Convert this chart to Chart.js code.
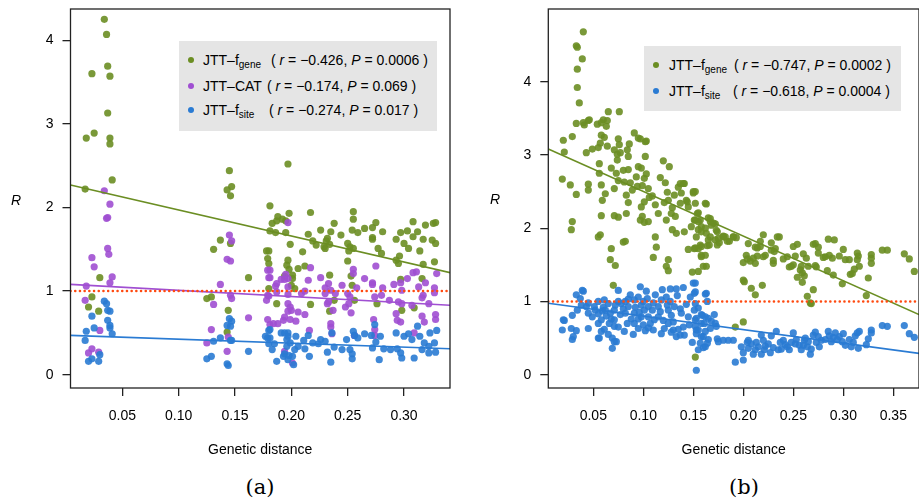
<!DOCTYPE html>
<html>
<head>
<meta charset="utf-8">
<script src="https://cdn.jsdelivr.net/npm/chart.js@4.4.1/dist/chart.umd.min.js"></script>
<style>
  body { margin: 0; width: 919px; height: 504px; position: relative; background: #fff; overflow: hidden; font-family: "Liberation Sans", Arial, sans-serif; }
  canvas { position: absolute; top: 0; }
  .ylab { position: absolute; font: italic 14px "Liberation Sans", Arial, sans-serif; color: #000; }
  .cap { position: absolute; font: 21px "DejaVu Serif", "Liberation Serif", serif; color: #000; transform: translateX(-50%); }
  .legend { position: absolute; background: #e5e5e5; }
  .row { position: absolute; height: 20px; line-height: 20px; font-size: 14px; color: #000; white-space: nowrap; }
  .dot { position: absolute; width: 6px; height: 6px; border-radius: 50%; }
  sub { font-size: 10px; vertical-align: -3px; line-height: 0; }
</style>
</head>
<body>
<canvas id="ca" width="460" height="470" style="left:0"></canvas>
<canvas id="cb" width="459" height="470" style="left:460px"></canvas>

<div class="ylab" style="left:11px;top:192px">R</div>
<div class="ylab" style="left:490px;top:191px">R</div>

<div class="legend" style="left:179px;top:41px;width:258px;height:90px">
  <div class="dot" style="left:9px;top:16px;background:#6b8e23"></div>
  <div class="row" style="left:24px;top:9px">JTT–f<sub>gene</sub></div>
  <div class="row" style="left:92px;top:9px">( <i>r</i> = −0.426, <i>P</i> = 0.0006 )</div>
  <div class="dot" style="left:9px;top:42px;background:#a04fd2"></div>
  <div class="row" style="left:24px;top:35px">JTT–CAT</div>
  <div class="row" style="left:88px;top:35px">( <i>r</i> = −0.174, <i>P</i> = 0.069 )</div>
  <div class="dot" style="left:9px;top:66px;background:#2a7bd3"></div>
  <div class="row" style="left:24px;top:59px">JTT–f<sub>site</sub></div>
  <div class="row" style="left:90px;top:59px">( <i>r</i> = −0.274, <i>P</i> = 0.017 )</div>
</div>

<div class="legend" style="left:644px;top:46px;width:257px;height:65px">
  <div class="dot" style="left:9px;top:16px;background:#6b8e23"></div>
  <div class="row" style="left:25px;top:9px">JTT–f<sub>gene</sub></div>
  <div class="row" style="left:90px;top:9px">( <i>r</i> = −0.747, <i>P</i> = 0.0002 )</div>
  <div class="dot" style="left:9px;top:42px;background:#2a7bd3"></div>
  <div class="row" style="left:25px;top:35px">JTT–f<sub>site</sub></div>
  <div class="row" style="left:89px;top:35px">( <i>r</i> = −0.618, <i>P</i> = 0.0004 )</div>
</div>

<div class="cap" style="left:260px;top:475px">(a)</div>
<div class="cap" style="left:744px;top:475px">(b)</div>

<script>
// ---- panel (a) ----
const aXTicks = [0.05, 0.10, 0.15, 0.20, 0.25, 0.30];
const yTicks = [0, 1, 2, 3, 4];

const aGene = [
  [0.034,4.25],[0.036,4.07],[0.037,3.69],[0.023,3.60],[0.039,3.57],[0.037,3.13],[0.025,2.89],[0.018,2.83],
  [0.039,2.83],[0.039,2.76],[0.041,2.33],[0.017,2.22],[0.030,1.16],[0.023,0.93],[0.020,0.81],[0.029,0.76],
  [0.145,2.44],[0.147,2.25],[0.143,2.21],[0.146,2.14],[0.137,1.61],[0.131,1.50],[0.146,1.57],[0.162,1.16],
  [0.125,0.91],[0.129,0.93],[0.144,0.77],[0.143,0.51],
  [0.180,1.48],[0.179,1.39],[0.180,1.33],[0.180,1.03],
  [0.197,2.52],[0.181,2.02],[0.183,1.81],[0.187,1.84],[0.188,1.89],[0.192,1.86],[0.195,1.84],[0.198,1.93],
  [0.195,1.70],[0.181,1.72],[0.186,1.70],[0.217,1.94],[0.238,1.81],[0.255,1.95],[0.255,1.86],[0.275,1.82],
  [0.272,1.76],[0.308,1.83],[0.328,1.82],[0.326,1.81],[0.319,1.79],[0.226,1.73],[0.235,1.71],[0.244,1.67],
  [0.254,1.73],[0.259,1.70],[0.265,1.75],[0.272,1.64],[0.281,1.71],[0.297,1.70],[0.303,1.72],[0.312,1.71],
  [0.317,1.62],[0.325,1.61],[0.328,1.57],[0.308,1.65],[0.293,1.62],[0.300,1.57],[0.304,1.51],[0.314,1.48],
  [0.232,1.63],[0.231,1.60],[0.234,1.56],[0.230,1.51],[0.229,1.53],[0.222,1.55],[0.215,1.68],[0.219,1.60],
  [0.250,1.57],[0.252,1.53],[0.255,1.51],[0.251,1.48],[0.277,1.51],[0.280,1.45],[0.272,1.62],[0.293,1.37],
  [0.296,1.42],[0.295,1.33],[0.327,1.35],[0.317,1.32],[0.210,1.47],[0.199,1.56],[0.178,1.48],[0.197,1.37],
  [0.196,1.31],[0.198,1.26],[0.201,1.19],[0.206,1.27],[0.212,1.30],[0.194,1.18],[0.201,1.15],[0.234,1.19],
  [0.253,1.18],[0.254,1.07],[0.250,1.36],[0.234,0.76],[0.238,0.89],[0.217,0.84],[0.187,0.85],[0.256,0.89],
  [0.276,0.85],[0.298,0.77],[0.309,0.80],[0.316,1.15],[0.297,1.14],[0.203,1.03],[0.200,1.07]
];

const aCat = [
  [0.034,2.20],[0.039,2.04],[0.036,1.87],[0.037,1.88],[0.037,1.51],[0.038,1.44],[0.023,1.40],[0.025,1.29],
  [0.041,1.17],[0.039,1.10],[0.018,1.06],[0.017,0.89],[0.030,0.53],[0.023,0.31],[0.020,0.26],[0.029,0.27],
  [0.145,1.67],[0.147,1.60],[0.143,1.38],[0.146,1.36],[0.137,1.08],[0.146,0.95],[0.147,0.91],[0.131,0.84],
  [0.162,0.68],[0.129,0.54],[0.125,0.38],[0.144,0.45],[0.143,0.28],
  [0.179,1.25],[0.180,1.16],[0.179,0.95],[0.178,0.89],[0.179,0.66],
  [0.197,1.82],[0.181,1.25],[0.181,1.16],[0.187,1.09],[0.186,1.06],[0.195,1.20],[0.197,1.15],[0.194,1.14],
  [0.191,1.14],[0.197,1.05],[0.217,1.28],[0.226,1.16],[0.215,1.13],[0.233,1.09],[0.230,1.04],[0.235,1.01],
  [0.245,1.07],[0.255,1.26],[0.255,1.21],[0.258,1.04],[0.265,1.15],[0.275,1.30],[0.272,1.10],[0.272,1.08],
  [0.281,1.04],[0.291,1.08],[0.297,1.10],[0.298,1.01],[0.303,1.15],[0.308,1.22],[0.311,1.23],[0.313,1.05],
  [0.319,1.10],[0.317,0.95],[0.327,1.04],[0.329,1.21],[0.327,0.98],[0.187,0.99],[0.197,0.96],[0.180,0.94],
  [0.209,0.97],[0.212,1.00],[0.230,0.97],[0.239,0.97],[0.250,0.97],[0.252,0.93],[0.274,0.93],[0.280,0.95],
  [0.287,0.89],[0.295,0.87],[0.298,0.85],[0.307,0.83],[0.316,0.92],[0.322,0.85],[0.197,0.85],[0.199,0.81],
  [0.200,0.77],[0.197,0.76],[0.206,0.75],[0.212,0.72],[0.194,0.69],[0.199,0.66],[0.204,0.64],[0.193,0.65],
  [0.232,0.85],[0.233,0.87],[0.237,0.77],[0.253,0.74],[0.251,0.85],[0.248,0.81],[0.273,0.66],[0.274,0.54],
  [0.293,0.73],[0.294,0.65],[0.297,0.63],[0.316,0.70],[0.318,0.63],[0.328,0.72],[0.328,0.66],[0.181,0.60],
  [0.184,0.61],[0.188,0.61],[0.216,0.53],[0.235,0.61],[0.235,0.57],[0.236,0.49],[0.194,0.28],[0.201,0.14],
  [0.256,0.47],[0.274,0.47],[0.309,0.50]
];

const aSite = [
  [0.034,0.88],[0.036,0.85],[0.037,0.77],[0.039,0.76],[0.023,0.70],[0.037,0.65],[0.039,0.59],[0.039,0.56],
  [0.025,0.56],[0.041,0.49],[0.018,0.52],[0.017,0.41],[0.030,0.24],[0.020,0.16],[0.023,0.19],[0.029,0.16],
  [0.145,0.67],[0.147,0.64],[0.143,0.59],[0.146,0.58],[0.137,0.44],[0.131,0.40],[0.146,0.41],[0.147,0.41],
  [0.162,0.28],[0.129,0.22],[0.125,0.19],[0.143,0.13],[0.144,0.11],
  [0.180,0.53],[0.179,0.44],[0.181,0.44],
  [0.181,0.54],[0.177,0.46],[0.180,0.37],[0.185,0.37],[0.183,0.30],[0.187,0.16],[0.191,0.50],[0.194,0.50],
  [0.197,0.50],[0.197,0.46],[0.199,0.38],[0.196,0.34],[0.194,0.25],[0.198,0.23],[0.201,0.22],[0.202,0.12],
  [0.203,0.30],[0.206,0.34],[0.204,0.46],[0.196,0.42],[0.193,0.22],[0.197,0.18],[0.211,0.41],[0.212,0.31],
  [0.216,0.22],[0.215,0.47],[0.219,0.38],[0.224,0.37],[0.226,0.42],[0.230,0.40],[0.232,0.27],[0.235,0.15],
  [0.236,0.50],[0.238,0.33],[0.245,0.30],[0.249,0.42],[0.252,0.30],[0.254,0.25],[0.254,0.19],[0.255,0.52],
  [0.256,0.47],[0.259,0.44],[0.265,0.49],[0.271,0.47],[0.274,0.60],[0.275,0.39],[0.272,0.32],[0.279,0.46],
  [0.278,0.18],[0.282,0.31],[0.288,0.30],[0.293,0.50],[0.294,0.31],[0.297,0.26],[0.298,0.20],[0.300,0.46],
  [0.304,0.49],[0.307,0.42],[0.309,0.20],[0.312,0.58],[0.314,0.46],[0.318,0.38],[0.322,0.34],[0.322,0.26],
  [0.327,0.38],[0.329,0.53],[0.328,0.27],[0.323,0.50],[0.316,0.30]
];

const aGeneFit = [[0.004, 2.27], [0.341, 1.22]];
const aCatFit  = [[0.004, 1.08], [0.341, 0.83]];
const aSiteFit = [[0.004, 0.47], [0.341, 0.31]];

// ---- panel (b) ----
const bXTicks = [0.05, 0.10, 0.15, 0.20, 0.25, 0.30, 0.35];

const bGene = [
  [0.040,4.68],[0.033,4.49],[0.034,4.47],[0.039,4.31],[0.034,4.17],[0.034,3.92],[0.036,3.71],
  [0.033,3.43],[0.040,3.44],[0.041,3.41],[0.045,3.47],[0.046,3.48],[0.054,3.42],[0.058,3.44],[0.060,3.48],
  [0.063,3.39],[0.065,3.59],[0.076,3.59],[0.064,3.47],
  [0.020,3.20],[0.029,3.25],[0.021,3.04],[0.043,3.03],[0.049,3.08],[0.055,3.10],[0.057,3.16],[0.058,3.27],
  [0.061,3.24],[0.064,3.12],[0.075,3.22],[0.076,3.14],[0.071,3.07],[0.074,3.01],[0.077,3.03],[0.084,3.07],
  [0.086,3.15],[0.091,3.30],[0.097,3.22],[0.103,3.19],[0.085,2.98],[0.074,2.93],[0.102,2.98],[0.102,3.18],[0.095,3.23],
  [0.019,2.67],[0.027,2.59],[0.033,2.46],[0.045,2.60],[0.045,2.52],[0.056,2.88],[0.056,2.75],[0.058,2.59],
  [0.062,2.47],[0.059,2.38],[0.068,2.82],[0.073,2.75],[0.075,2.65],[0.071,2.54],[0.080,2.79],[0.085,2.80],
  [0.081,2.63],[0.087,2.62],[0.089,2.52],[0.083,2.45],[0.085,2.35],[0.095,2.84],[0.098,2.82],[0.103,2.74],
  [0.101,2.68],[0.093,2.70],[0.094,2.57],[0.099,2.58],[0.105,2.54],[0.106,2.42],[0.101,2.36],[0.098,2.29],
  [0.099,2.16],[0.097,2.11],[0.101,2.08],[0.105,2.09],[0.109,2.44],[0.112,2.32],[0.115,2.20],[0.120,2.92],
  [0.126,2.84],[0.117,2.69],[0.122,2.62],[0.124,2.49],[0.125,2.38],[0.121,2.35],[0.129,2.28],[0.128,2.20],
  [0.123,2.11],[0.132,2.16],[0.131,2.45],[0.135,2.56],[0.141,2.61],[0.138,2.48],[0.137,2.34],[0.129,1.98],
  [0.133,1.93],[0.141,1.95],[0.144,2.36],[0.150,2.48],[0.145,2.29],[0.151,2.11],[0.148,2.02],[0.153,1.88],
  [0.137,2.61],[0.140,2.61],[0.150,2.50],[0.143,2.38],[0.154,2.20],[0.157,2.11],[0.167,2.13],[0.170,2.07],
  [0.173,1.97],[0.182,1.88],[0.190,1.88],
  [0.058,2.17],[0.071,2.17],[0.075,2.15],[0.083,2.20],[0.029,2.09],[0.028,1.98],[0.057,1.91],[0.055,1.88],
  [0.082,1.82],[0.080,1.81],[0.112,1.88],[0.113,1.74],[0.068,1.72],[0.067,1.57],[0.072,1.49],[0.110,1.60],
  [0.125,1.57],[0.123,1.48],[0.125,1.42],[0.145,1.71],[0.151,1.72],[0.149,1.40],[0.070,1.22],[0.152,0.24],
  [0.155,1.72],[0.157,1.77],[0.162,1.63],[0.163,1.48],[0.166,1.77],[0.176,1.80],[0.180,1.89],[0.186,1.82],
  [0.193,1.87],
  [0.152,2.50],[0.162,2.34],[0.163,2.33],[0.155,2.21],[0.152,2.34],[0.152,2.11],[0.155,2.09],[0.158,2.02],
  [0.162,2.00],[0.165,2.14],[0.167,2.09],[0.168,2.04],[0.172,2.06],[0.174,1.95],[0.155,1.98],[0.158,1.95],
  [0.163,1.93],[0.167,1.88],[0.165,1.84],[0.172,1.84],[0.175,1.86],[0.180,1.88],[0.184,1.82],[0.190,1.88],
  [0.174,1.77],[0.164,1.76],[0.158,1.75],[0.152,1.73],[0.158,1.63],[0.158,1.61],[0.160,1.48],[0.155,1.41],
  [0.205,1.79],[0.220,1.91],[0.217,1.82],[0.228,1.80],[0.234,1.88],[0.236,1.88],[0.232,1.72],[0.231,1.68],
  [0.228,1.70],[0.214,1.73],[0.212,1.74],[0.217,1.75],[0.222,1.63],[0.220,1.61],[0.214,1.62],[0.210,1.59],
  [0.207,1.55],[0.203,1.63],[0.204,1.58],[0.200,1.53],[0.212,1.52],[0.230,1.56],[0.230,1.52],[0.240,1.58],
  [0.244,1.61],[0.246,1.47],[0.248,1.48],[0.252,1.62],[0.250,1.50],[0.250,1.75],[0.254,1.78],[0.260,1.65],
  [0.263,1.59],[0.258,1.48],[0.265,1.48],[0.257,1.43],[0.259,1.39],[0.261,1.35],[0.254,1.33],[0.259,1.26],
  [0.270,1.78],[0.272,1.79],[0.275,1.74],[0.275,1.66],[0.272,1.49],[0.273,1.47],[0.282,1.61],[0.285,1.85],
  [0.291,1.84],[0.280,1.60],[0.286,1.63],[0.289,1.59],[0.296,1.62],[0.300,1.71],[0.302,1.57],[0.306,1.57],
  [0.314,1.66],[0.315,1.62],[0.314,1.57],[0.316,1.48],[0.311,1.44],[0.307,1.37],[0.309,1.38],[0.290,1.36],
  [0.284,1.42],[0.299,1.24],[0.325,1.32],[0.328,1.64],[0.328,1.59],[0.328,1.52],[0.339,1.70],[0.344,1.70],
  [0.361,1.65],[0.366,1.58],[0.371,1.41],[0.323,1.08],[0.200,1.29],[0.201,1.27],[0.208,1.18],[0.212,1.09],
  [0.219,1.22],[0.270,1.16],[0.264,1.07],[0.267,0.98],[0.268,0.97],[0.200,0.72],[0.192,0.65]
];

const bSite = [
  [0.021,0.74],[0.019,0.61],[0.028,0.63],[0.029,0.48],[0.030,0.52],[0.033,0.60],[0.029,0.81],[0.034,0.88],
  [0.038,0.95],[0.033,1.09],[0.039,1.15],[0.037,1.04],[0.043,0.93],[0.045,0.84],[0.049,0.79],[0.045,0.63],
  [0.056,0.50],[0.055,0.70],[0.058,0.75],[0.059,0.87],[0.055,1.00],[0.061,1.02],[0.065,0.97],[0.067,0.84],
  [0.068,0.76],[0.061,0.62],[0.058,0.59],[0.069,0.36],[0.069,0.50],[0.073,0.45],[0.071,0.88],[0.075,1.15],
  [0.075,1.00],[0.078,0.97],[0.082,0.84],[0.084,0.70],[0.081,0.59],[0.087,1.09],[0.091,1.02],[0.095,1.06],
  [0.097,1.20],[0.103,1.14],[0.100,1.00],[0.101,0.88],[0.098,0.79],[0.095,0.63],[0.102,0.60],[0.105,0.93],
  [0.109,0.88],[0.111,0.75],[0.110,0.61],[0.115,0.93],[0.118,1.02],[0.119,1.16],[0.123,1.06],[0.127,1.17],
  [0.133,1.17],[0.140,1.19],[0.131,0.93],[0.128,0.81],[0.125,0.70],[0.121,0.63],[0.130,0.61],[0.133,0.52],
  [0.137,0.54],[0.141,0.54],[0.145,0.79],[0.147,1.06],[0.150,1.25],[0.151,1.11],[0.151,0.88],[0.153,0.77],
  [0.159,0.81],[0.161,0.70],[0.160,0.52],[0.162,0.38],[0.157,0.43],[0.153,0.61],[0.149,0.44],[0.153,0.56],
  [0.153,0.06],[0.051,0.93],[0.071,0.66],[0.091,0.84],[0.091,0.70],[0.115,0.79],[0.085,0.93],[0.138,0.84],
  [0.105,0.79],[0.071,0.75],
  [0.045,0.98],[0.052,0.88],[0.060,0.92],[0.063,0.80],[0.066,0.70],[0.072,0.95],[0.077,0.82],[0.080,0.90],
  [0.085,1.03],[0.088,0.76],[0.092,0.92],[0.096,0.85],[0.098,0.95],[0.104,1.04],[0.107,0.70],[0.112,1.09],
  [0.117,0.86],[0.120,0.74],[0.124,0.95],[0.127,1.00],[0.130,0.72],[0.134,1.08],[0.137,0.90],[0.140,0.65],
  [0.143,0.96],[0.146,0.68],[0.055,0.83],[0.082,1.00],[0.100,0.68],[0.118,0.56],[0.125,0.88],[0.135,0.62],
  [0.090,0.55],[0.075,0.65],[0.065,0.55],[0.110,0.98],[0.095,0.76],[0.105,0.64],[0.128,0.58],[0.062,0.88],
  [0.020,0.75],[0.040,1.14],[0.055,0.50],[0.071,0.45],
  [0.152,1.25],[0.152,1.13],[0.163,1.11],[0.162,1.10],[0.164,1.00],[0.155,0.91],[0.152,0.97],[0.158,0.82],
  [0.162,0.79],[0.165,0.77],[0.171,0.82],[0.168,0.73],[0.172,0.70],[0.173,0.66],[0.167,0.63],[0.158,0.70],
  [0.152,0.75],[0.152,0.66],[0.155,0.61],[0.162,0.59],[0.158,0.52],[0.165,0.48],[0.164,0.43],[0.160,0.37],
  [0.155,0.34],[0.174,0.49],[0.175,0.45],[0.180,0.47],[0.185,0.47],[0.190,0.47],[0.192,0.17],[0.200,0.20],
  [0.198,0.38],[0.200,0.30],[0.204,0.44],[0.205,0.47],[0.208,0.42],[0.212,0.34],[0.210,0.28],[0.215,0.38],
  [0.218,0.54],[0.220,0.47],[0.221,0.34],[0.218,0.28],[0.225,0.42],[0.228,0.53],[0.230,0.37],[0.233,0.59],
  [0.235,0.34],[0.237,0.44],[0.238,0.35],[0.242,0.41],[0.246,0.34],[0.248,0.44],[0.250,0.57],[0.253,0.48],
  [0.256,0.40],[0.258,0.34],[0.261,0.47],[0.264,0.38],[0.267,0.28],[0.270,0.54],[0.272,0.58],[0.275,0.52],
  [0.273,0.44],[0.278,0.47],[0.285,0.59],[0.286,0.53],[0.290,0.51],[0.292,0.57],[0.296,0.52],[0.300,0.56],
  [0.299,0.45],[0.306,0.48],[0.308,0.38],[0.312,0.53],[0.314,0.57],[0.316,0.59],[0.315,0.36],[0.325,0.49],
  [0.328,0.61],[0.328,0.57],[0.323,0.41],[0.339,0.67],[0.344,0.66],[0.361,0.67],[0.366,0.56],[0.371,0.51],
  [0.205,0.36],[0.213,0.44],[0.222,0.39],[0.227,0.30],[0.240,0.47],[0.244,0.38],[0.252,0.42],[0.260,0.40],
  [0.265,0.45],[0.268,0.35],[0.276,0.38],[0.282,0.48],[0.288,0.45],[0.294,0.48],[0.302,0.40],[0.310,0.44],
  [0.262,0.50]
];

const bGeneFit = [[0.005, 3.08], [0.3757, 0.82]];
const bSiteFit = [[0.005, 0.975], [0.3757, 0.29]];

const GREEN = 'rgba(107,142,35,0.9)';
const PURPLE = 'rgba(160,79,210,0.9)';
const BLUE = 'rgba(42,123,211,0.9)';
const FONT = { family: '"Liberation Sans", Arial, sans-serif', size: 14 };

// R-style box round the plot region
const boxPlugin = {
  id: 'box',
  afterDraw(chart) {
    const { ctx, chartArea: a } = chart;
    ctx.save();
    ctx.strokeStyle = '#222';
    ctx.lineWidth = 1.3;
    ctx.strokeRect(a.left, a.top, a.right - a.left, a.bottom - a.top);
    ctx.restore();
  }
};

function pts(list, color) {
  return { data: list, backgroundColor: color, borderWidth: 0, pointRadius: 3.6, pointHoverRadius: 3.6 };
}
function fit(list, color) {
  return { data: list, showLine: true, borderColor: color, borderWidth: 1.6, pointRadius: 0, fill: false };
}
function refLine(xmin, xmax) {
  return {
    data: [[xmin, 1], [xmax, 1]], showLine: true, borderColor: '#ff4a10', borderWidth: 2.5,
    borderDash: [0.1, 4.6], borderCapStyle: 'round', pointRadius: 0, fill: false
  };
}

function makeChart(id, xr, yr, xTicks, yAxisWidth, padRight, datasets) {
  const grid = { display: true, drawOnChartArea: false, drawTicks: true, tickLength: 8, color: '#222', lineWidth: 1.3 };
  return new Chart(document.getElementById(id), {
    type: 'scatter',
    data: { datasets },
    plugins: [boxPlugin],
    options: {
      responsive: false,
      devicePixelRatio: 1,
      animation: false,
      layout: { autoPadding: false, padding: { top: 9, right: padRight, left: 0, bottom: 0 } },
      plugins: { legend: { display: false }, tooltip: { enabled: false } },
      scales: {
        x: {
          type: 'linear', min: xr[0], max: xr[1],
          grid, border: { display: false },
          afterBuildTicks: s => { s.ticks = xTicks.map(v => ({ value: v })); },
          afterFit: s => { s.height = 82; s.paddingLeft = 0; s.paddingRight = 0; },
          ticks: { autoSkip: false, maxRotation: 0, padding: 12, color: '#000', font: FONT, callback: v => v.toFixed(2) },
          title: { display: true, text: 'Genetic distance', color: '#000', font: FONT, padding: { top: 0, bottom: 11 } }
        },
        y: {
          type: 'linear', min: yr[0], max: yr[1],
          grid, border: { display: false },
          afterBuildTicks: s => { s.ticks = yTicks.map(v => ({ value: v })); },
          afterFit: s => { s.width = yAxisWidth; s.paddingTop = 0; s.paddingBottom = 0; },
          ticks: { autoSkip: false, padding: 9, color: '#000', font: FONT, callback: v => String(v) }
        }
      }
    }
  });
}

makeChart('ca', [0.004, 0.3408], [-0.159, 4.374], aXTicks, 70.5, 10, [
  refLine(0.004, 0.3408),
  fit(aGeneFit, 'rgb(107,142,35)'),
  fit(aCatFit, 'rgb(160,79,210)'),
  fit(aSiteFit, 'rgb(42,123,211)'),
  pts(aSite, BLUE),
  pts(aCat, PURPLE),
  pts(aGene, GREEN)
]);

makeChart('cb', [0.005, 0.3757], [-0.182, 4.992], bXTicks, 88.3, 0, [
  refLine(0.005, 0.3757),
  fit(bGeneFit, 'rgb(107,142,35)'),
  fit(bSiteFit, 'rgb(42,123,211)'),
  pts(bSite, BLUE),
  pts(bGene, GREEN)
]);
</script>
</body>
</html>
